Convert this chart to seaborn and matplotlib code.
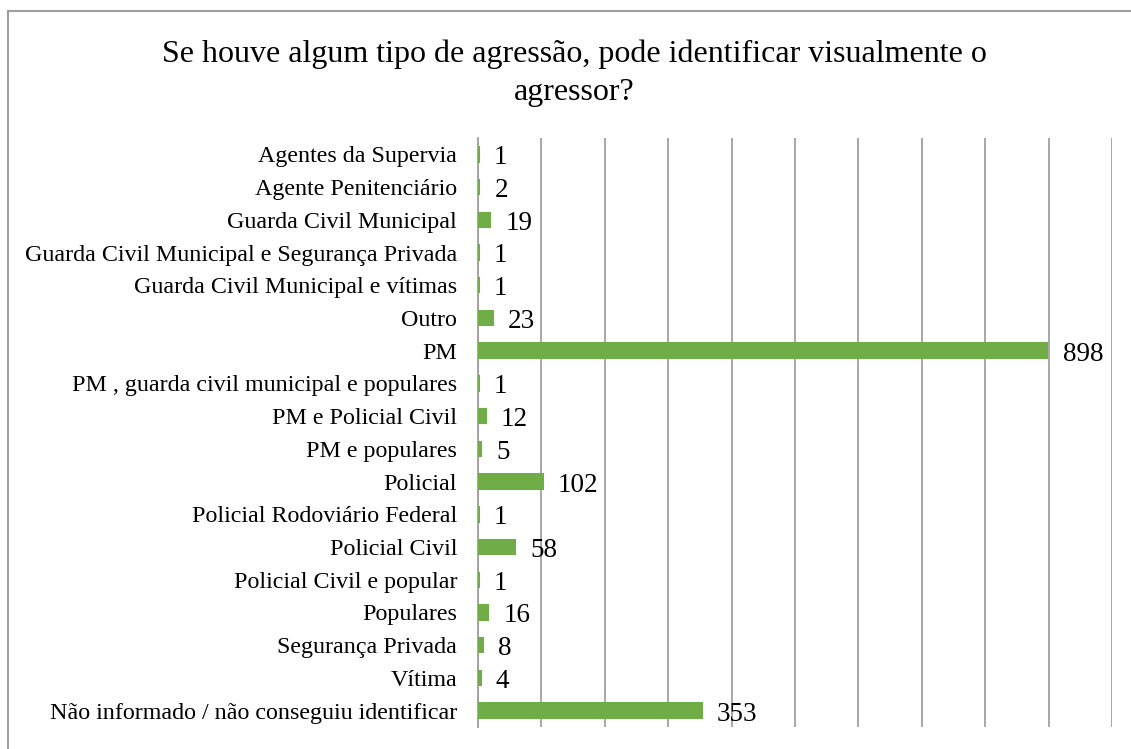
import seaborn as sns
import matplotlib.pyplot as plt
import pandas as pd
from matplotlib.patches import Rectangle

# categories and counts, top to bottom as in the chart
categories = [
    "Agentes da Supervia",
    "Agente Penitenciário",
    "Guarda Civil Municipal",
    "Guarda Civil Municipal e Segurança Privada",
    "Guarda Civil Municipal e vítimas",
    "Outro",
    "PM",
    "PM , guarda civil municipal e populares",
    "PM e Policial Civil",
    "PM e populares",
    "Policial",
    "Policial Rodoviário Federal",
    "Policial Civil",
    "Policial Civil e popular",
    "Populares",
    "Segurança Privada",
    "Vítima",
    "Não informado / não conseguiu identificar",
]
counts = [1, 2, 19, 1, 1, 23, 898, 1, 12, 5, 102, 1, 58, 1, 16, 8, 4, 353]

df = pd.DataFrame({"agressor": categories, "total": counts})

sns.set_style("white")
plt.rcParams["font.family"] = ["Liberation Serif", "DejaVu Serif"]
plt.rcParams["text.color"] = "black"
plt.rcParams["ytick.color"] = "black"

fig = plt.figure(figsize=(11.31, 7.49), dpi=100)
ax = fig.add_axes([478 / 1131, 1 - 727 / 749, (1112 - 478) / 1131, (727 - 138) / 749])

sns.barplot(data=df, x="total", y="agressor", orient="h", color="#70AD47",
            saturation=1, width=0.44, edgecolor="#70AD47", linewidth=1.5,
            zorder=3, ax=ax)

ax.set_xlim(0, 1000)
ax.set_ylim(len(categories) - 0.5, -0.5)
ax.set_xticks(range(0, 1001, 100))
ax.set_xticklabels([])
ax.tick_params(axis="x", length=0)
ax.grid(axis="x", color="#A0A0A0", linewidth=1.3)
ax.set_axisbelow(True)
ax.set_xlabel("")
ax.set_ylabel("")

# y tick marks between categories
ax.set_yticks([i - 0.5 for i in range(len(categories) + 1)], minor=True)
ax.tick_params(axis="y", which="minor", length=5, color="#A0A0A0", width=1.3, direction="out")
ax.tick_params(axis="y", which="major", length=0, labelsize=17.3, pad=15, labelcolor="black")

for s in ["top", "right", "bottom"]:
    ax.spines[s].set_visible(False)
ax.spines["left"].set_color("#A0A0A0")
ax.spines["left"].set_linewidth(1.3)
ax.spines["left"].set_zorder(2)

for i, v in enumerate(counts):
    ax.annotate(str(v), (v, i), xytext=(11, -2.5), textcoords="offset points",
                ha="left", va="center", fontsize=19.5, color="black", zorder=4)

fig.suptitle("Se houve algum tipo de agressão, pode identificar visualmente o\nagressor?",
             x=0.508, y=0.947, fontsize=23, linespacing=1.38, color="black")

# chart-area border (only top and left edges fall inside the picture)
fig.patches.append(Rectangle((8 / 1131, -0.02), 1.1, (749 - 11) / 749 + 0.02,
                             transform=fig.transFigure, fill=False,
                             edgecolor="#A0A0A0", linewidth=1.5))

fig.savefig("out.png", dpi=100)
